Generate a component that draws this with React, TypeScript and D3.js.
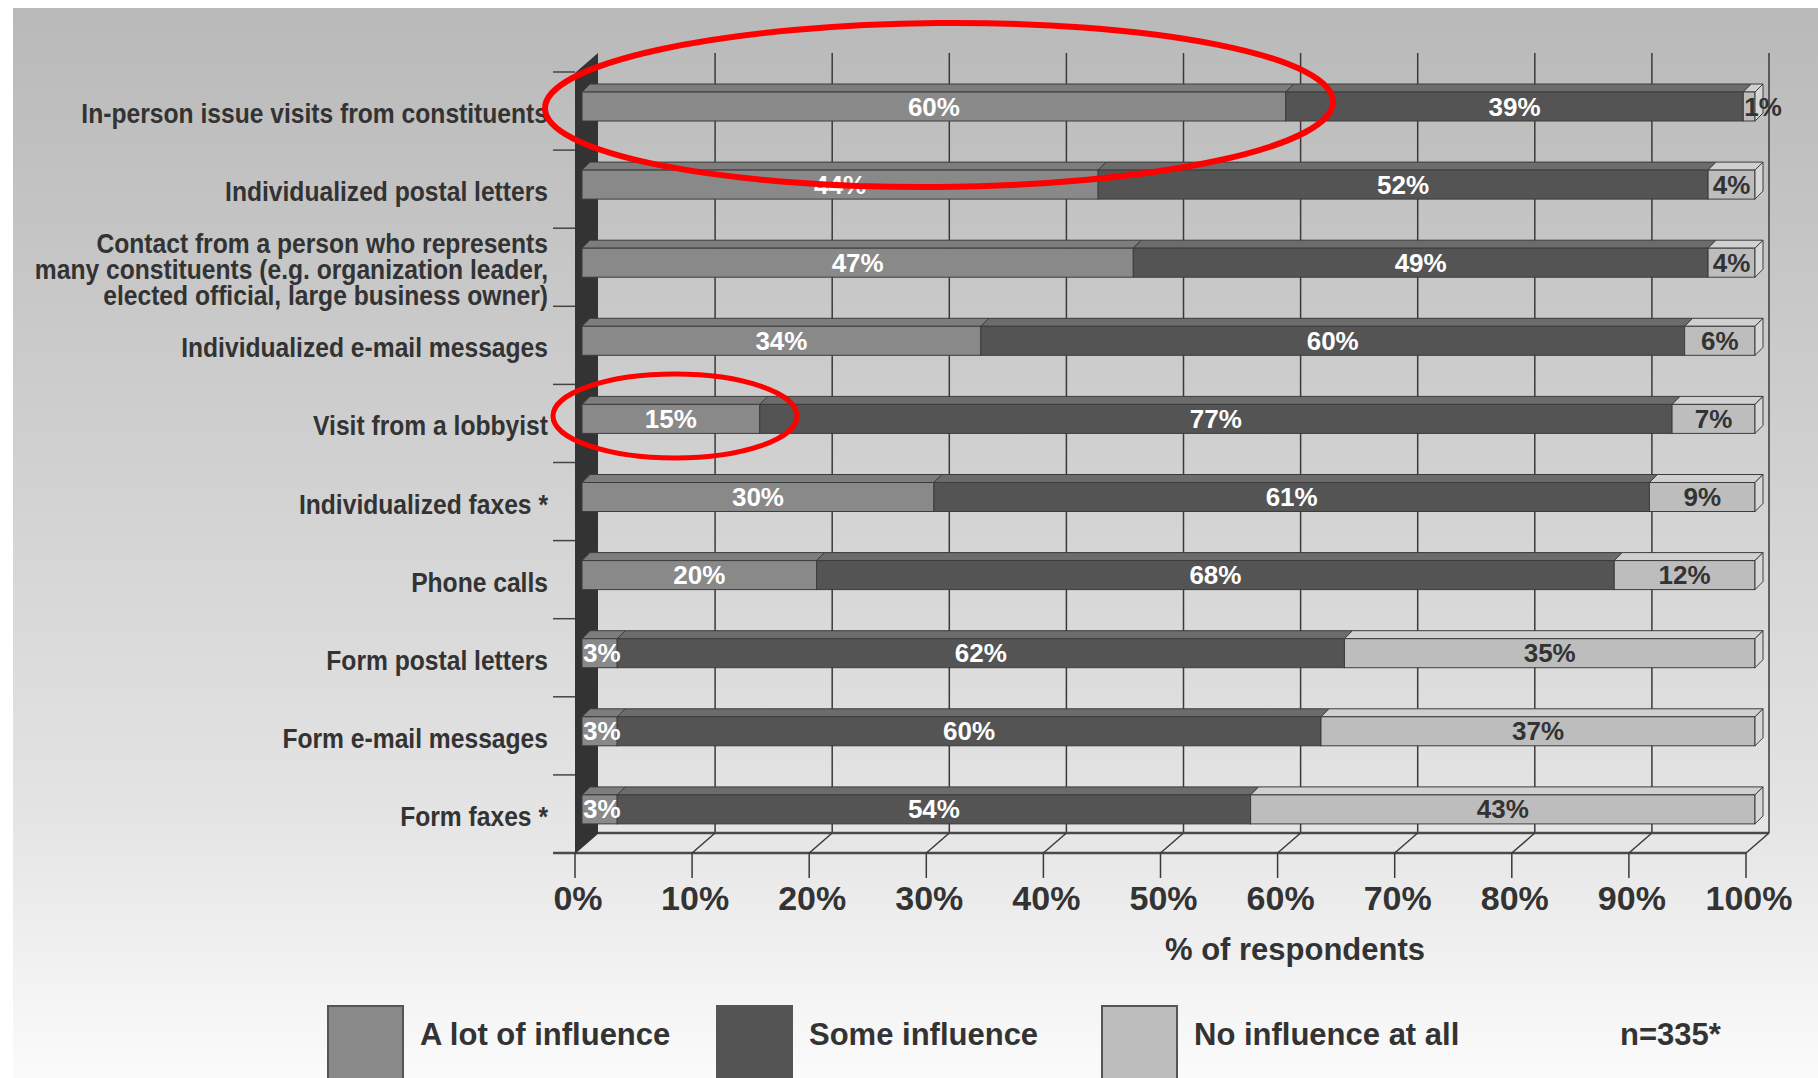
import React from "react";
import * as d3 from "d3";

const categories = [
  "In-person issue visits from constituents",
  "Individualized postal letters",
  "Contact from a person who represents\nmany constituents (e.g. organization leader,\nelected official, large business owner)",
  "Individualized e-mail messages",
  "Visit from a lobbyist",
  "Individualized faxes *",
  "Phone calls",
  "Form postal letters",
  "Form e-mail messages",
  "Form faxes *",
];
const lotValues = [60, 44, 47, 34, 15, 30, 20, 3, 3, 3];
const someValues = [39, 52, 49, 60, 77, 61, 68, 62, 60, 54];
const noneValues = [1, 4, 4, 6, 7, 9, 12, 35, 37, 43];
const seriesKeys = ["lot", "some", "none"];
const legendLabels = ["A lot of influence", "Some influence", "No influence at all"];
const xTicks = [0, 10, 20, 30, 40, 50, 60, 70, 80, 90, 100];
const xTitle = "% of respondents";
const sampleNote = "n=335*";

const frontColors = ["#898989", "#545454", "#bdbdbd"];
const topColors = ["#7d7d7d", "#6c6c6c", "#d0d0d0"];
const textColors = ["#ffffff", "#ffffff", "#333333"];

const W = 1818;
const H = 1078;
const DX = 23;
const DY = -20;
const BD = 8;

export default function App() {
  const rows = categories.map((c, i) => ({
    cat: c,
    lot: lotValues[i],
    some: someValues[i],
    none: noneValues[i],
  }));
  const stack = d3.stack<any>().keys(seriesKeys).offset(d3.stackOffsetExpand);
  const stacked = stack(rows);

  const xFront = d3.scaleLinear().domain([0, 100]).range([575, 1746]);
  const xBar = d3.scaleLinear().domain([0, 1]).range([582, 1755]);
  const y = d3.scaleBand<string>().domain(categories).range([72, 853]);
  const bh = 29;
  const barTop = (c: string) => (y(c) as number) + 20;

  const floorY = y.range()[1];
  const wallTop = 53;
  const backX = (v: number) => xFront(v) + DX;
  const backFloor = floorY + DY;

  const sansBold = "'Liberation Sans', Arial, sans-serif";
  const labelX = 548;

  return (
    <svg
      width={W}
      height={H}
      viewBox={`0 0 ${W} ${H}`}
      style={{ position: "absolute", left: 0, top: 0, display: "block" }}
    >
      <defs>
        <linearGradient id="bg" x1="0" y1="0" x2="0" y2="1">
          <stop offset="0" stopColor="#b9b9b9" />
          <stop offset="0.45" stopColor="#d2d2d2" />
          <stop offset="0.75" stopColor="#e4e4e4" />
          <stop offset="1" stopColor="#fbfbfb" />
        </linearGradient>
      </defs>
      <rect x={0} y={0} width={W} height={H} fill="#ffffff" />
      <rect x={13} y={8} width={W - 13} height={H - 8} fill="url(#bg)" />

      {/* back wall gridlines */}
      {xTicks.slice(1).map((t) => (
        <line
          key={"g" + t}
          x1={backX(t)}
          x2={backX(t)}
          y1={wallTop}
          y2={backFloor}
          stroke="#3a3a3a"
          strokeWidth={1.5}
        />
      ))}
      {/* floor */}
      <line x1={backX(0)} x2={backX(100)} y1={backFloor} y2={backFloor} stroke="#4a4a4a" strokeWidth={2.5} />
      <line x1={553} x2={xFront(100)} y1={floorY} y2={floorY} stroke="#4a4a4a" strokeWidth={2.5} />
      {xTicks.map((t) => (
        <g key={"ft" + t}>
          <line x1={xFront(t)} x2={backX(t)} y1={floorY} y2={backFloor} stroke="#3a3a3a" strokeWidth={1.5} />
          <line x1={xFront(t)} x2={xFront(t)} y1={floorY} y2={floorY + 25} stroke="#3a3a3a" strokeWidth={1.5} />
        </g>
      ))}
      {/* left wall */}
      <polygon
        points={`${xFront(0)},${wallTop - DY} ${backX(0)},${wallTop} ${backX(0)},${backFloor} ${xFront(0)},${floorY}`}
        fill="#333333"
      />
      {/* y ticks */}
      {categories.map((c) => (
        <line key={"yt" + c} x1={553} x2={575} y1={y(c)} y2={y(c)} stroke="#444" strokeWidth={1.5} />
      ))}

      {/* bars */}
      {categories.map((c, ri) => {
        const yt = barTop(c);
        return (
          <g key={"bar" + ri}>
            {stacked.map((s, si) => {
              const d = s[ri];
              const x0 = xBar(d[0]);
              const x1 = xBar(d[1]);
              const isLast = si === stacked.length - 1;
              return (
                <g key={si}>
                  <polygon
                    points={`${x0},${yt} ${x0 + BD},${yt - BD} ${x1 + BD},${yt - BD} ${x1},${yt}`}
                    fill={topColors[si]}
                    stroke="#3c3c3c"
                    strokeWidth={1}
                  />
                  <rect x={x0} y={yt} width={x1 - x0} height={bh} fill={frontColors[si]} stroke="#3c3c3c" strokeWidth={1} />
                  {isLast && (
                    <polygon
                      points={`${x1},${yt} ${x1 + BD},${yt - BD} ${x1 + BD},${yt + bh - BD} ${x1},${yt + bh}`}
                      fill="#d6d6d6"
                      stroke="#3c3c3c"
                      strokeWidth={1}
                    />
                  )}
                </g>
              );
            })}
            {stacked.map((s, si) => {
              const d = s[ri];
              const v = [lotValues, someValues, noneValues][si][ri];
              const x0 = xBar(d[0]);
              const x1 = xBar(d[1]);
              const small = v <= 3 || (x1 - x0) < 20;
              return (
                <text
                  key={"t" + si}
                  x={small ? x0 + 1 : (x0 + x1) / 2}
                  y={yt + bh / 2 + 9}
                  textAnchor={small ? "start" : "middle"}
                  fill={textColors[si]}
                  fontFamily={sansBold}
                  fontWeight="bold"
                  fontSize={26}
                >
                  {v}%
                </text>
              );
            })}
          </g>
        );
      })}

      {/* y labels (horizontally condensed) */}
      <g transform={`translate(${labelX},0) scale(0.88,1)`}>
        {categories.map((c) => {
          const lines = c.split("\n");
          const cy = (y(c) as number) + y.bandwidth() / 2 + 12;
          const lh = 26;
          return (
            <text
              key={"yl" + c}
              textAnchor="end"
              fill="#333333"
              fontFamily={sansBold}
              fontWeight="bold"
              fontSize={28}
            >
              {lines.map((l, li) => (
                <tspan key={li} x={0} y={cy + (li - (lines.length - 1) / 2) * lh}>
                  {l}
                </tspan>
              ))}
            </text>
          );
        })}
      </g>

      {/* x tick labels */}
      {xTicks.map((t) => (
        <text
          key={"xl" + t}
          x={xFront(t) + 3}
          y={910}
          textAnchor="middle"
          fill="#333333"
          fontFamily={sansBold}
          fontWeight="bold"
          fontSize={34}
        >
          {t}%
        </text>
      ))}
      <text x={1295} y={960} textAnchor="middle" fill="#333333" fontFamily={sansBold} fontWeight="bold" fontSize={31}>
        {xTitle}
      </text>

      {/* legend */}
      {legendLabels.map((l, i) => {
        const bx = [328, 717, 1102][i];
        return (
          <g key={"lg" + i}>
            <rect x={bx} y={1006} width={75} height={80} fill={frontColors[i]} stroke="#555" strokeWidth={2} />
            <text x={bx + 92} y={1045} fill="#333333" fontFamily={sansBold} fontWeight="bold" fontSize={31}>
              {l}
            </text>
          </g>
        );
      })}
      <text x={1620} y={1045} fill="#333333" fontFamily={sansBold} fontWeight="bold" fontSize={31}>
        {sampleNote}
      </text>

      {/* highlight ellipses */}
      <ellipse cx={939} cy={105} rx={394} ry={82} fill="none" stroke="#ff0000" strokeWidth={6} transform="rotate(-0.5 939 105)" />
      <ellipse cx={675} cy={416} rx={122} ry={42} fill="none" stroke="#ff0000" strokeWidth={5} />
    </svg>
  );
}
